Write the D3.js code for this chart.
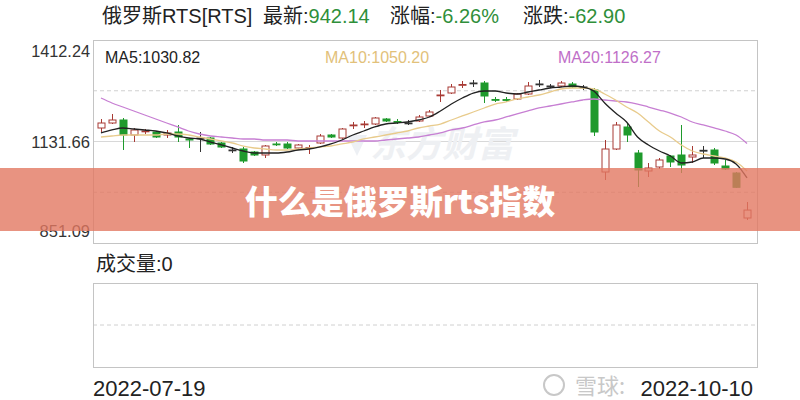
<!DOCTYPE html>
<html><head><meta charset="utf-8">
<script src="https://cdn.jsdelivr.net/npm/d3@7/dist/d3.min.js"></script>
<style>html,body{margin:0;padding:0;background:#fff;}svg{display:block;}</style>
</head><body>
<svg id="c" width="800" height="400"></svg>
<script>
const dates = ["2022-07-19","2022-07-20","2022-07-21","2022-07-22","2022-07-25","2022-07-26","2022-07-27","2022-07-28","2022-07-29","2022-08-01",
"2022-08-02","2022-08-03","2022-08-04","2022-08-05","2022-08-08","2022-08-09","2022-08-10","2022-08-11","2022-08-12","2022-08-15",
"2022-08-16","2022-08-17","2022-08-18","2022-08-19","2022-08-22","2022-08-23","2022-08-24","2022-08-25","2022-08-26","2022-08-29",
"2022-08-30","2022-08-31","2022-09-01","2022-09-02","2022-09-05","2022-09-06","2022-09-07","2022-09-08","2022-09-09","2022-09-12",
"2022-09-13","2022-09-14","2022-09-15","2022-09-16","2022-09-19","2022-09-20","2022-09-21","2022-09-22","2022-09-23","2022-09-26",
"2022-09-27","2022-09-28","2022-09-29","2022-09-30","2022-10-03","2022-10-04","2022-10-05","2022-10-06","2022-10-07","2022-10-10"];
const open = [1168.98,1182.80,1191.10,1149.63,1159.30,1157.92,1149.63,1157.92,1138.58,1141.34,
1141.34,1127.52,1108.17,1110.93,1102.64,1094.35,1124.75,1124.75,1113.70,1113.70,
1127.52,1149.63,1141.34,1175.90,1178.70,1180.04,1193.86,1187.00,1182.80,1188.33,
1202.15,1258.80,1265.73,1287.85,1293.37,1293.37,1247.80,1247.50,1249.15,1262.97,
1290.61,1285.08,1285.08,1290.61,1282.32,1274.03,1047.35,1110.93,1171.75,1099.87,
1050.12,1061.17,1091.58,1094.35,1088.82,1107.30,1108.17,1063.94,1044.59,920.20];
const close = [1182.80,1191.10,1149.63,1163.45,1160.69,1144.10,1155.16,1144.10,1135.81,1141.34,
1124.75,1116.46,1108.17,1077.76,1094.35,1119.22,1123.40,1113.70,1121.99,1115.10,
1146.87,1144.10,1166.22,1177.27,1180.04,1196.62,1188.33,1185.57,1182.80,1199.39,
1213.21,1260.20,1282.32,1289.20,1293.37,1257.44,1246.38,1246.00,1262.97,1285.08,
1290.61,1285.08,1293.37,1282.32,1282.32,1157.92,1110.93,1177.27,1149.63,1052.88,
1058.41,1080.52,1075.00,1066.70,1094.35,1107.30,1072.23,1055.65,1005.04,942.14];
const high = [1193.86,1207.68,1196.62,1168.98,1166.22,1160.69,1163.45,1177.27,1141.34,1157.92,
1144.10,1130.28,1116.46,1116.46,1105.40,1121.99,1130.28,1130.28,1124.75,1121.99,
1152.40,1152.40,1168.98,1185.57,1188.33,1199.39,1196.62,1193.86,1191.10,1204.92,
1218.74,1274.03,1290.61,1298.90,1301.67,1298.90,1254.67,1254.67,1265.73,1296.14,
1301.67,1290.61,1298.90,1296.14,1287.85,1279.55,1135.81,1185.57,1182.80,1108.17,
1072.23,1086.05,1094.35,1177.27,1119.22,1119.22,1113.70,1080.52,1047.35,964.40];
const low = [1157.92,1180.04,1108.17,1130.28,1152.40,1141.34,1141.34,1130.28,1113.70,1102.64,
1121.99,1113.70,1099.87,1072.23,1091.58,1086.05,1119.22,1110.93,1110.93,1097.11,
1124.75,1141.34,1138.58,1166.22,1168.98,1177.27,1185.57,1180.04,1177.27,1185.57,
1199.39,1240.85,1262.97,1279.55,1282.32,1238.09,1240.85,1240.85,1246.38,1260.20,
1282.32,1279.55,1282.32,1279.55,1274.03,1146.87,1025.24,1108.17,1130.28,1005.89,
1033.53,1055.65,1061.17,1044.59,1072.23,1086.05,1066.70,1052.88,1003.12,914.67];
const ma5 = [1155.2,1163.5,1169.0,1166.2,1163.5,1160.7,1155.2,1146.9,1141.3,1138.6,
1130.3,1122.0,1113.7,1105.4,1099.9,1099.9,1099.9,1102.6,1108.2,1110.9,
1116.5,1124.8,1135.8,1149.6,1160.7,1171.8,1180.0,1182.8,1185.6,1191.1,
1199.4,1216.0,1235.3,1251.9,1265.7,1271.3,1271.3,1265.7,1263.0,1268.5,
1274.0,1279.6,1282.3,1285.1,1282.3,1271.3,1238.1,1210.4,1185.6,1144.1,
1122.0,1105.4,1091.6,1072.2,1075.0,1086.1,1086.1,1083.3,1069.5,1030.82];
const ma10 = [1144.1,1146.9,1149.6,1149.6,1149.6,1149.6,1152.4,1152.4,1149.6,1144.1,
1138.6,1133.1,1127.5,1119.2,1113.7,1110.9,1108.2,1108.2,1110.9,1113.7,
1116.5,1119.2,1124.8,1130.3,1138.6,1144.1,1149.6,1155.2,1160.7,1169.0,
1174.5,1180.0,1191.1,1202.2,1213.2,1224.3,1235.3,1240.9,1249.2,1254.7,
1260.2,1268.5,1276.8,1279.6,1279.6,1276.8,1263.0,1246.4,1227.0,1210.4,
1185.6,1160.7,1144.1,1122.0,1105.4,1097.1,1091.6,1086.1,1075.0,1050.20];
const ma20 = [1251.9,1238.1,1227.0,1216.0,1204.9,1193.9,1182.8,1171.8,1160.7,1152.4,
1146.9,1144.1,1141.3,1138.6,1138.6,1135.8,1135.8,1135.8,1133.1,1133.1,
1133.1,1133.1,1133.1,1133.1,1133.1,1133.1,1135.8,1138.6,1141.3,1144.1,
1149.6,1155.2,1163.5,1169.0,1177.3,1185.6,1191.1,1199.4,1207.7,1216.0,
1224.3,1229.8,1235.3,1240.9,1246.4,1249.2,1246.4,1243.6,1240.9,1235.3,
1227.0,1218.7,1210.4,1199.4,1185.6,1177.3,1169.0,1160.7,1149.6,1126.27];
const yTickLabels = ["1412.24","1131.66","851.09"];
const yTicks = [1412.24, 1131.66, 851.09];
const volumeLabel = "成交量:0";
const titleName = "俄罗斯RTS[RTS]";
const latest = "942.14", changePct = "-6.26%", changeAmt = "-62.90";
const maLast = {ma5:"1030.82", ma10:"1050.20", ma20:"1126.27"};
const bannerText = "什么是俄罗斯rts指数";

const svg = d3.select("#c");
const L = 93, R = 757, T = 40, B = 243;
const VT = 283, VB = 367;
const font = "'Liberation Sans','Noto Sans CJK SC',sans-serif";
const upC = "#a83a34", dnC = "#1f9a2c", dojiC = "#333";
const x = d3.scaleBand().domain(d3.range(dates.length)).range([95.5, 752.5]);
const y = d3.scaleLinear().domain([851.09, 1412.24]).range([B, T]);
const cx = i => x(i) + x.bandwidth()/2;

// title
const title = svg.append("text").attr("y", 23).attr("font-family", font).attr("font-size", 20).attr("fill", "#222");
title.append("tspan").attr("x", 102).text(titleName);
title.append("tspan").attr("x", 263).text("最新:");
title.append("tspan").attr("fill", "#2f8f3a").text(latest);
title.append("tspan").attr("x", 390).text("涨幅:");
title.append("tspan").attr("fill", "#2f8f3a").text(changePct);
title.append("tspan").attr("x", 523).text("涨跌:");
title.append("tspan").attr("fill", "#2f8f3a").text(changeAmt);

// main panel frame and grid
const grid = [0.25, 0.75].map(f => y.invert(T + (B - T) * f));
svg.selectAll(".g").data(grid).enter().append("line")
  .attr("x1", L).attr("x2", R).attr("y1", d => y(d)).attr("y2", d => y(d))
  .attr("stroke", "#d0d0d0").attr("stroke-dasharray", "4,3");
svg.append("line").attr("x1", L).attr("x2", R).attr("y1", y(yTicks[1])).attr("y2", y(yTicks[1])).attr("stroke", "#d8d8d8");
svg.append("rect").attr("x", L + 0.5).attr("y", T + 0.5).attr("width", R - L).attr("height", B - T)
  .attr("fill", "none").attr("stroke", "#c4c4c4");

// y labels
const yl = [57, 148, 237];
svg.selectAll(".yl").data(yTickLabels).enter().append("text")
  .attr("x", 90).attr("y", (d, i) => yl[i]).attr("text-anchor", "end")
  .attr("font-family", font).attr("font-size", 17).attr("fill", "#333")
  .attr("textLength", (d) => d.length * 8.4).attr("lengthAdjust", "spacingAndGlyphs").text(d => d);

// watermark
svg.append("text").attr("x", 370).attr("y", 157).attr("font-family", "'Noto Sans CJK SC'")
  .attr("font-size", 36).attr("font-weight", 700).attr("fill", "#eef0f3").attr("font-style", "italic").text("东方财富");
svg.append("path").attr("d", "M347,135 L367,135 L357,156 Z").attr("fill", "#edf0f4");

// MA labels
const mal = svg.append("g").attr("font-family", font).attr("font-size", 16);
mal.append("text").attr("x", 105).attr("y", 63).attr("fill", "#222").text("MA5:" + maLast.ma5);
mal.append("text").attr("x", 325).attr("y", 63).attr("fill", "#e2c17a").text("MA10:" + maLast.ma10);
mal.append("text").attr("x", 558).attr("y", 63).attr("fill", "#c06fc8").text("MA20:" + maLast.ma20);

// candles
const bw = 7;
const col = i => close[i] > open[i] ? upC : (close[i] < open[i] ? dnC : dojiC);
const cg = svg.append("g");
const idx = d3.range(dates.length);
cg.selectAll(".w").data(idx).enter().append("line")
  .attr("x1", i => Math.round(cx(i)) + 0.5).attr("x2", i => Math.round(cx(i)) + 0.5)
  .attr("y1", i => y(high[i])).attr("y2", i => y(low[i])).attr("stroke", col).attr("stroke-width", 1);
cg.selectAll(".b").data(idx).enter().append("rect")
  .attr("x", i => Math.round(cx(i)) - bw/2 + 0.5)
  .attr("y", i => y(Math.max(open[i], close[i])))
  .attr("width", bw)
  .attr("height", i => Math.max(0.8, Math.abs(y(open[i]) - y(close[i]))))
  .attr("fill", i => close[i] > open[i] ? "#fff" : col(i))
  .attr("stroke", col).attr("stroke-width", 1);

// MA lines
const line = d3.line().x((d, i) => cx(i)).y(d => y(d)).curve(d3.curveMonotoneX);
svg.append("path").datum(ma20).attr("d", line).attr("fill", "none").attr("stroke", "#c77fd3").attr("stroke-width", 1.3);
svg.append("path").datum(ma10).attr("d", line).attr("fill", "none").attr("stroke", "#e8cb8c").attr("stroke-width", 1.3);
svg.append("path").datum(ma5).attr("d", line).attr("fill", "none").attr("stroke", "#222").attr("stroke-width", 1.3);

// volume panel
svg.append("text").attr("x", 96).attr("y", 271).attr("font-family", font).attr("font-size", 20).attr("fill", "#222").text(volumeLabel);
svg.append("line").attr("x1", L).attr("x2", R).attr("y1", (VT + VB) / 2).attr("y2", (VT + VB) / 2)
  .attr("stroke", "#d0d0d0").attr("stroke-dasharray", "4,3");
svg.append("rect").attr("x", L + 0.5).attr("y", VT + 0.5).attr("width", R - L).attr("height", VB - VT)
  .attr("fill", "none").attr("stroke", "#c4c4c4");

// bottom watermark
svg.append("circle").attr("cx", 554).attr("cy", 385).attr("r", 10).attr("fill", "none").attr("stroke", "#c8c8c8").attr("stroke-width", 2);
svg.append("text").attr("x", 575).attr("y", 394).attr("font-family", "'Noto Sans CJK SC'").attr("font-size", 22).attr("fill", "#c8c8c8").text("雪球:");

// dates
svg.append("text").attr("x", 93).attr("y", 396).attr("font-family", font).attr("font-size", 22).attr("fill", "#222").text(dates[0]);
svg.append("text").attr("x", 753).attr("y", 396).attr("text-anchor", "end").attr("font-family", font).attr("font-size", 22).attr("fill", "#222").text(dates[dates.length - 1]);

// banner
svg.append("rect").attr("x", 0).attr("y", 168).attr("width", 800).attr("height", 63).attr("fill", "rgb(226,120,98)").attr("opacity", 0.8);
svg.append("text").attr("x", 400).attr("y", 214).attr("text-anchor", "middle").attr("font-family", "'Noto Sans CJK SC'")
  .attr("font-size", 33).attr("font-weight", 900).attr("fill", "#fff").text(bannerText);
</script>
</body></html>
